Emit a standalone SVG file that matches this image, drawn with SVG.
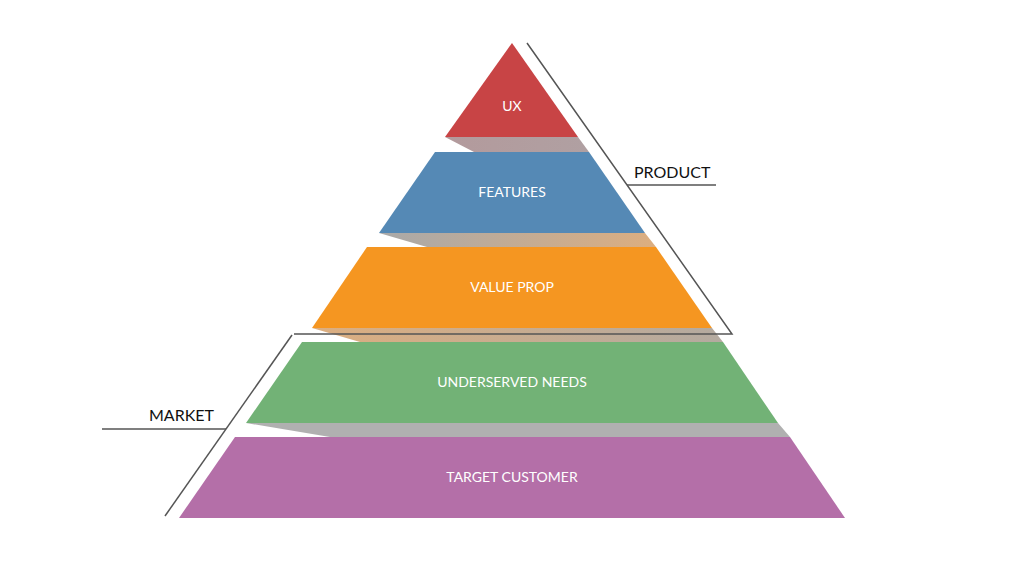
<svg xmlns="http://www.w3.org/2000/svg" width="1024" height="576" viewBox="0 0 1024 576">
<style>
.t{font-family:Lato,"Open Sans",sans-serif;font-size:14px;fill:#fff;text-anchor:middle}
.l{font-family:Lato,"Open Sans",sans-serif;font-size:16px;fill:#111}
.ln{stroke:#555;stroke-width:1.5;fill:none}
</style>
<defs>
<linearGradient id="g1" x1="0" x2="1"><stop offset="0" stop-color="#b39a9c"/><stop offset="1" stop-color="#b0a0a2"/></linearGradient>
<linearGradient id="g2" x1="0" x2="1"><stop offset="0" stop-color="#a9a9a9"/><stop offset="1" stop-color="#dcae80"/></linearGradient>
<linearGradient id="g3" x1="0" x2="1"><stop offset="0" stop-color="#dcae80"/><stop offset="1" stop-color="#b4aaa0"/></linearGradient>
<linearGradient id="g4" x1="0" x2="1"><stop offset="0" stop-color="#b0b0b0"/><stop offset="1" stop-color="#b0b0b0"/></linearGradient>
</defs>
<rect width="1024" height="576" fill="#fff"/>
<g id="shadows">
<polygon points="445,137 578,137 589,152 474,152" fill="url(#g1)"/>
<polygon points="379,233 645,233 656,247 427,247" fill="url(#g2)"/>
<polygon points="312,328 712,328 723,342 360,342" fill="url(#g3)"/>
<polygon points="246,423 778,423 790,437 330,437" fill="url(#g4)"/>
</g>
<g id="ux"><polygon points="512,43 578,137 445,137" fill="#c84445"/><text class="t" x="512" y="111">UX</text></g>
<g id="features"><polygon points="435,152 589,152 645,233 379,233" fill="#5589b5"/><text class="t" x="512" y="197">FEATURES</text></g>
<g id="valueprop"><polygon points="367,247 656,247 712,328 312,328" fill="#f59621"/><text class="t" x="512" y="292">VALUE PROP</text></g>
<g id="underserved"><polygon points="302,342 723,342 778,423 246,423" fill="#72b276"/><text class="t" x="512" y="387">UNDERSERVED NEEDS</text></g>
<g id="target"><polygon points="235,437 790,437 845,518 179,518" fill="#b46fa8"/><text class="t" x="512" y="482">TARGET CUSTOMER</text></g>
<g id="connectors">
<polyline class="ln" points="527,43 732,334 294,334"/>
<line class="ln" x1="627" y1="185" x2="716" y2="185"/>
<line class="ln" x1="292" y1="335" x2="165" y2="516"/>
<line class="ln" x1="102" y1="429" x2="226" y2="429"/>
</g>
<g id="labels">
<text class="l" x="634" y="178">PRODUCT</text>
<text class="l" x="149" y="421">MARKET</text>
</g>
</svg>
